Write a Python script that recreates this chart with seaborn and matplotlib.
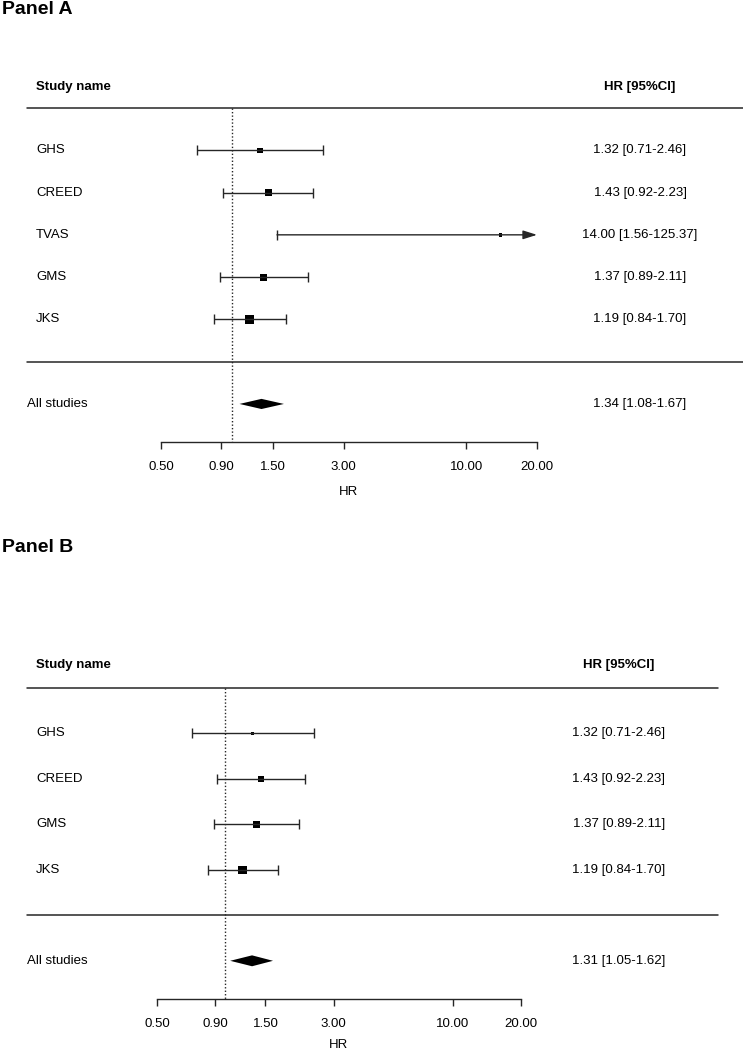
import numpy as np
import pandas as pd
import matplotlib
matplotlib.use("Agg")
import matplotlib.pyplot as plt
import matplotlib.transforms as mtransforms
import seaborn as sns

# Panel A: all studies
studies_a = ["GHS", "CREED", "TVAS", "GMS", "JKS"]
hr_a = [1.32, 1.43, 14.00, 1.37, 1.19]
lo_a = [0.71, 0.92, 1.56, 0.89, 0.84]
hi_a = [2.46, 2.23, 125.37, 2.11, 1.70]
pooled_a = [1.34, 1.08, 1.67]

# Panel B: without TVAS
studies_b = ["GHS", "CREED", "GMS", "JKS"]
hr_b = [1.32, 1.43, 1.37, 1.19]
lo_b = [0.71, 0.92, 0.89, 0.84]
hi_b = [2.46, 2.23, 2.11, 1.70]
pooled_b = [1.31, 1.05, 1.62]

x_ticks = [0.5, 0.9, 1.5, 3, 10, 20]
x_ticklabels = ["0.50", "0.90", "1.50", "3.00", "10.00", "20.00"]

sns.set_theme(style="white")
plt.rcParams['font.family'] = ['Liberation Sans', 'DejaVu Sans']
plt.rcParams['text.color'] = 'black'
plt.rcParams['axes.labelcolor'] = 'black'

W, H = 743, 1050
INK = '#262626'
FS = 9.5


def fmt(h, l, u):
    return f"{h:.2f} [{l:.2f}-{u:.2f}]"


def forest(fig, box, ybottom, studies, hr, lo, hi, pooled, txt_x, rule_right, labelpad):
    left, right, top, bottom = box
    ax = fig.add_axes([left / W, 1 - bottom / H, (right - left) / W, (bottom - top) / H])
    ax.patch.set_alpha(0)
    n = len(studies)
    xmin, xmax = x_ticks[0], x_ticks[-1]

    df = pd.DataFrame({"study": studies, "hr": hr, "lo": lo, "hi": hi})
    df["pos"] = np.arange(1, n + 1)
    # inverse-variance weight from the CI width -> box size
    df["weight"] = 1 / ((np.log(df.hi) - np.log(df.lo)) / (2 * 1.96)) ** 2
    clipped = df.hi > xmax

    inside = df[~clipped]
    ax.hlines(inside.pos, inside.lo, inside.hi, color=INK, lw=1)
    ax.plot(df.lo, df.pos, ls='none', marker='|', ms=7, mew=1, color=INK)
    ax.plot(inside.hi, inside.pos, ls='none', marker='|', ms=7, mew=1, color=INK)
    for _, r in df[clipped].iterrows():
        ax.annotate("", xy=(xmax, r.pos), xytext=(r.lo, r.pos),
                    arrowprops=dict(arrowstyle="-|>,head_length=0.7,head_width=0.22",
                                    color=INK, lw=1, shrinkA=0, shrinkB=0))

    sns.scatterplot(data=df, x="hr", y="pos", size="weight", sizes=(6, 38),
                    marker="s", color="black", linewidth=0, legend=False, ax=ax)

    # pooled diamond
    pe, pl, ph = pooled
    yp = n + 2
    ax.fill([pl, pe, ph, pe], [yp, yp - 0.12, yp, yp + 0.12], color='black', lw=0)

    # reference line at HR = 1
    ax.plot([1, 1], [0, ybottom], ls=(0, (1, 1.5)), lw=1, color=INK)

    trans = mtransforms.blended_transform_factory(fig.transFigure, ax.transData)
    for y in [0, n + 1]:
        ax.plot([27 / W, rule_right / W], [y, y], color=INK, lw=1.1,
                transform=trans, clip_on=False)

    ax.text(36 / W, -0.5, "Study name", transform=trans, fontsize=FS,
            fontweight='bold', va='center', ha='left')
    ax.text(txt_x / W, -0.5, "HR [95%CI]", transform=trans, fontsize=FS,
            fontweight='bold', va='center', ha='center')
    for _, r in df.iterrows():
        ax.text(36 / W, r.pos, r.study, transform=trans, fontsize=FS, va='center')
        ax.text(txt_x / W, r.pos, fmt(r.hr, r.lo, r.hi), transform=trans,
                fontsize=FS, va='center', ha='center')
    ax.text(27 / W, yp, "All studies", transform=trans, fontsize=FS, va='center')
    ax.text(txt_x / W, yp, fmt(pe, pl, ph), transform=trans, fontsize=FS,
            va='center', ha='center')

    ax.set_xscale('log')
    ax.set_xlim(xmin, xmax)
    ax.set_ylim(ybottom, 0)
    ax.set_xticks(x_ticks)
    ax.set_xticklabels(x_ticklabels)
    ax.xaxis.set_minor_locator(plt.NullLocator())
    ax.set_yticks([])
    ax.set_ylabel("")
    ax.set_xlabel("HR", fontsize=FS, labelpad=labelpad)
    for s in ["top", "left", "right"]:
        ax.spines[s].set_visible(False)
    ax.spines["bottom"].set_color(INK)
    ax.spines["bottom"].set_linewidth(1)
    ax.tick_params(axis='x', bottom=True, direction='out', length=5, width=1,
                   color=INK, pad=9, labelsize=FS, labelcolor='black')
    ax.grid(False)
    return ax


fig = plt.figure(figsize=(W / 100, H / 100), dpi=100)

fig.text(2 / W, 1 - 9 / H, "Panel A", fontsize=14, fontweight='bold', va='center')
forest(fig, (161, 537, 108, 442), 7.9, studies_a, hr_a, lo_a, hi_a, pooled_a, 640, 743, 9)

fig.text(2 / W, 1 - 547 / H, "Panel B", fontsize=14, fontweight='bold', va='center')
forest(fig, (157, 521, 688, 999), 6.84, studies_b, hr_b, lo_b, hi_b, pooled_b, 619, 718, 6)

fig.savefig("out.png", dpi=100)
